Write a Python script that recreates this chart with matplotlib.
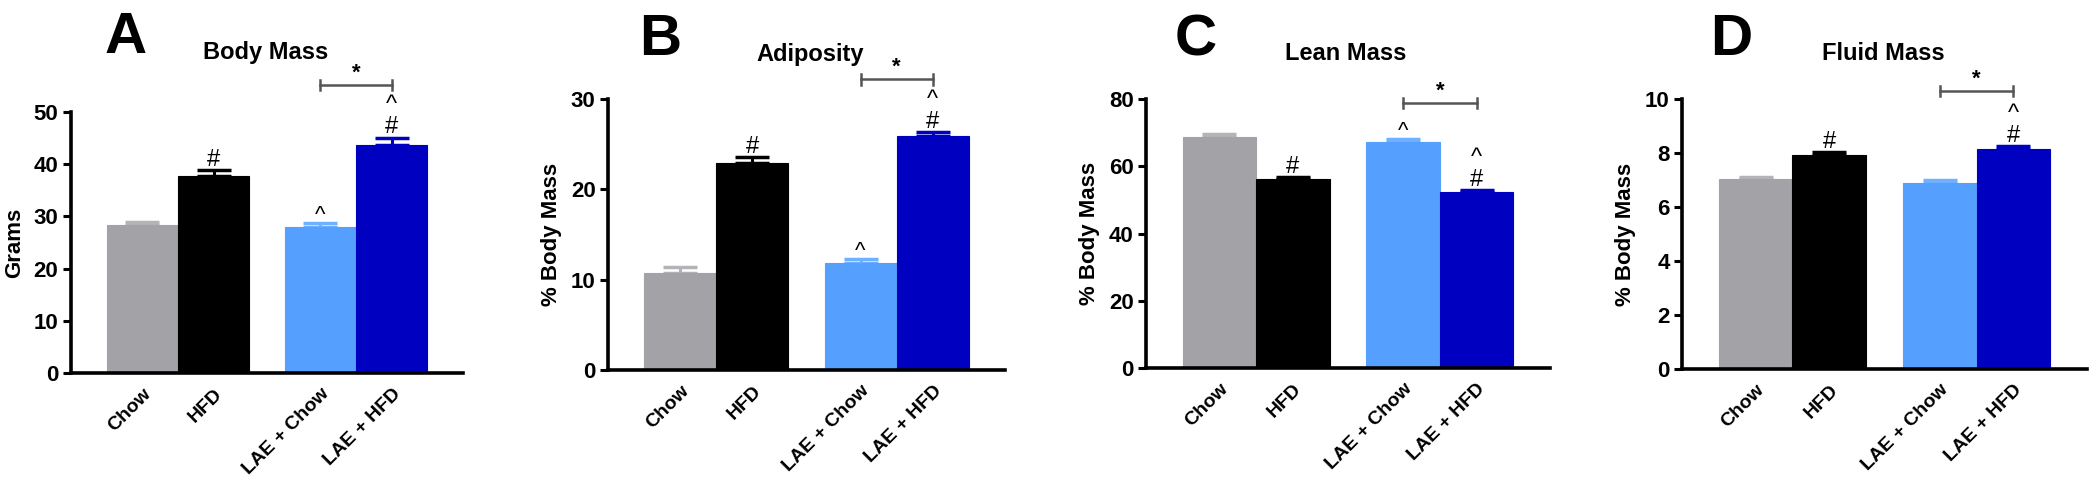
import matplotlib
matplotlib.use('Agg')
import matplotlib.pyplot as plt
import numpy as np

plt.rcParams['font.family'] = ['Liberation Sans', 'DejaVu Sans']

groups = ['Chow', 'HFD', 'LAE + Chow', 'LAE + HFD']
colors = ['#a3a2a7', '#000000', '#55a0ff', '#0000c0']
err_colors = ['#b4b4b8', '#000000', '#6fb0ff', '#0000c0']

letters = ['A', 'B', 'C', 'D']
titles = ['Body Mass', 'Adiposity', 'Lean Mass', 'Fluid Mass']
ylabels = ['Grams', '% Body Mass', '% Body Mass', '% Body Mass']

body_mass = [28.3, 37.7, 28.0, 43.7]
body_mass_err = [0.7, 1.2, 0.7, 1.4]
adiposity = [10.7, 22.95, 11.8, 25.9]
adiposity_err = [0.65, 0.6, 0.5, 0.45]
lean_mass = [68.8, 56.1, 67.3, 52.2]
lean_mass_err = [0.7, 0.8, 0.7, 0.7]
fluid_mass = [7.02, 7.94, 6.89, 8.14]
fluid_mass_err = [0.08, 0.1, 0.11, 0.12]

ymax = [50, 30, 80, 10]
ystep = [10, 10, 20, 2]

# significance marks above each bar ('#' vs Chow, '^' vs same diet without LAE)
marks = [['', '#', '^', '^\n#'],
         ['', '#', '^', '^\n#'],
         ['', '#', '^', '^\n#'],
         ['', '#', '', '^\n#']]
bracket_y = [55.2, 32.2, 78.8, 10.3]

values = [body_mass, adiposity, lean_mass, fluid_mass]
errors = [body_mass_err, adiposity_err, lean_mass_err, fluid_mass_err]

W, H = 2100, 479
fig = plt.figure(figsize=(W / 100, H / 100), dpi=100)

# axes boxes in pixels: left, right, bottom, top
boxes = [(71, 463, 373, 112), (608, 1005, 370, 99),
         (1146, 1550, 368, 99), (1682, 2087, 369, 99)]
letter_pos = [(126, 38), (660, 40), (1196, 40), (1731, 40)]
title_pos = [(266, 53), (810, 55), (1346, 53), (1883, 53)]

x = np.array([0, 1, 2.5, 3.5])

for i in range(4):
    l, r, b, t = boxes[i]
    ax = fig.add_axes([l / W, 1 - b / H, (r - l) / W, (b - t) / H])
    vals = values[i]
    errs = errors[i]
    ax.bar(x, vals, width=1.0, color=colors, edgecolor=colors, linewidth=0.8, zorder=2)
    for j in range(4):
        ax.errorbar(x[j], vals[j], yerr=[[0], [errs[j]]], fmt='none',
                    ecolor=err_colors[j], elinewidth=2.2, capsize=12.5, capthick=2.5, zorder=1)
    ax.set_xlim(-1.0, 4.5)
    ax.set_ylim(0, ymax[i])
    ax.set_yticks(np.arange(0, ymax[i] + 0.01, ystep[i]))
    ax.set_xticks(x)
    ax.set_xticklabels(groups, rotation=45, ha='right', rotation_mode='anchor',
                       fontsize=14, fontweight='bold')
    ax.tick_params(axis='x', length=0, pad=9)
    ax.tick_params(axis='y', length=6, width=2.2, labelsize=16, pad=3)
    for lab in ax.get_yticklabels():
        lab.set_fontweight('bold')
    ax.spines['top'].set_visible(False)
    ax.spines['right'].set_visible(False)
    ax.spines['left'].set_linewidth(2.6)
    ax.spines['bottom'].set_linewidth(2.6)
    ax.set_ylabel(ylabels[i], fontsize=16, fontweight='bold', labelpad=6)

    # significance symbols just above the error bar top
    for j in range(4):
        m = marks[i][j]
        if not m:
            continue
        top = vals[j] + errs[j]
        if m == '^':
            ax.annotate(m, (x[j], top), xytext=(0, 1.5), textcoords='offset points',
                        ha='center', va='baseline', fontsize=16, annotation_clip=False)
        elif m == '#':
            ax.annotate(m, (x[j], top), xytext=(0, 3), textcoords='offset points',
                        ha='center', va='baseline', fontsize=17, annotation_clip=False)
        else:
            ax.annotate(m, (x[j], top), xytext=(0, -0.5), textcoords='offset points',
                        ha='center', va='bottom', fontsize=17, linespacing=1.0,
                        multialignment='center', annotation_clip=False)

    # bracket between LAE groups
    by = bracket_y[i]
    tk = ymax[i] * 0.02
    ax.plot([x[2], x[3]], [by, by], color='#555555', lw=1.8, clip_on=False)
    ax.plot([x[2], x[2]], [by - tk, by + tk], color='#555555', lw=1.8, clip_on=False)
    ax.plot([x[3], x[3]], [by - tk, by + tk], color='#555555', lw=1.8, clip_on=False)
    ax.annotate('*', ((x[2] + x[3]) / 2, by), xytext=(0, 1), textcoords='offset points',
                ha='center', va='bottom', fontsize=16, fontweight='bold', annotation_clip=False)

    fig.text(letter_pos[i][0] / W, 1 - letter_pos[i][1] / H, letters[i],
             fontsize=42, fontweight='bold', ha='center', va='center')
    fig.text(title_pos[i][0] / W, 1 - title_pos[i][1] / H, titles[i],
             fontsize=17, fontweight='bold', ha='center', va='center')

fig.savefig('out.png', dpi=100)
